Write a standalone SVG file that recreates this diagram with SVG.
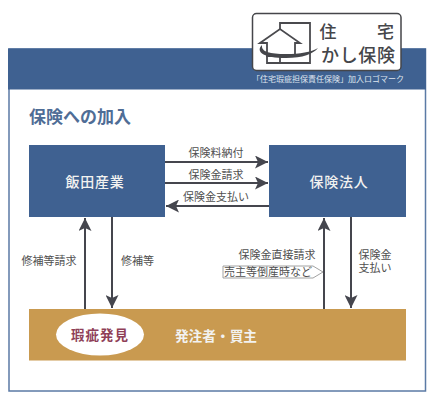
<svg xmlns="http://www.w3.org/2000/svg" width="433" height="400" viewBox="0 0 433 400">
<defs>
<style>
text{font-family:"Noto Sans CJK JP","Noto Sans",sans-serif}
.lb{font-size:11px;fill:#4f4f4f;text-anchor:middle}
.nd{font-size:14px;font-weight:500;fill:#f2f2f0;text-anchor:middle;letter-spacing:.7px}
.blue{fill:#3f6191}
.ln{stroke:#45464e;stroke-width:2;fill:none}
.ic{stroke:#4a4a4e;stroke-width:1.800;fill:#fff}
.lg{fill:#45464a;font-weight:500}
</style>
<marker id="ah" markerUnits="userSpaceOnUse" markerWidth="14" markerHeight="13" refX="13" refY="6.500" orient="auto"><path d="M0 0L13 6.500L0 13L3 6.500Z" fill="#45464e"/></marker>
</defs>
<rect width="433" height="400" fill="#fff"/>
<g id="frame">
<rect x="9" y="49" width="416.500" height="342" fill="#fff" stroke="#5b7aa5" stroke-width="1.500"/>
<rect class="blue" x="8" y="48.500" width="418" height="41"/>
<text x="328" y="82" font-size="8" fill="#dfe6ef" text-anchor="middle">「住宅瑕疵担保責任保険」加入ロゴマーク</text>
</g>
<g id="logo">
<rect x="252.500" y="13.500" width="148.500" height="57" rx="4" fill="#fff" stroke="#45464a" stroke-width="1.500"/>
<path class="ic" d="M280 33V23H310V63H267V52"/>
<path class="ic" d="M280 56V63"/>
<path class="ic" d="M260 43L280 29L300 43H295V56H267V43Z"/>
<path d="M262 45C255 52 264 58 286 58C303 58 313 54 318 48C311 52 300 54 286 54C270 54 261 52 262 45Z" fill="#45464a"/>
<text class="lg" x="319.500" y="38" font-size="17">住</text>
<text class="lg" x="377" y="38" font-size="17">宅</text>
<text class="lg" x="321" y="62" font-size="18" textLength="74" lengthAdjust="spacing">かし保険</text>
</g>
<text id="title" x="29" y="123" font-size="17" font-weight="700" fill="#4f6d96">保険への加入</text>
<g id="connectors">
<path class="ln" d="M165 162H268" marker-end="url(#ah)"/>
<path class="ln" d="M165 183H268" marker-end="url(#ah)"/>
<path class="ln" d="M269 206H166" marker-end="url(#ah)"/>
<path class="ln" d="M85 309V218" marker-end="url(#ah)"/>
<path class="ln" d="M112 217V308" marker-end="url(#ah)"/>
<path class="ln" d="M324 309V218" marker-end="url(#ah)"/>
<path class="ln" d="M351 217V308" marker-end="url(#ah)"/>
</g>
<g id="n-iida"><rect class="blue" x="29" y="145" width="136" height="72"/><text class="nd" x="95" y="187">飯田産業</text></g>
<g id="n-hoken"><rect class="blue" x="269" y="145" width="137" height="72"/><text class="nd" x="339" y="187">保険法人</text></g>
<g id="n-buyer">
<rect x="29" y="309" width="377" height="51.500" fill="#c99a50"/>
<ellipse cx="100" cy="334.500" rx="44" ry="21" fill="#fff"/>
<text x="100" y="340" font-size="13.500" font-weight="700" fill="#8f3f58" text-anchor="middle" letter-spacing="1">瑕疵発見</text>
<text x="216" y="341" font-size="13.700" font-weight="700" fill="#f2f2f0" text-anchor="middle">発注者・買主</text>
</g>
<g id="labels">
<text class="lb" x="216" y="157">保険料納付</text>
<text class="lb" x="216" y="179">保険金請求</text>
<text class="lb" x="216" y="201">保険金支払い</text>
<text class="lb" x="49" y="265">修補等請求</text>
<text class="lb" x="137.500" y="265">修補等</text>
<text class="lb" x="277" y="259">保険金直接請求</text>
<path d="M223 266H313L323 272L313 278H223Z" fill="#fff" stroke="#8a8a8a" stroke-width=".8"/>
<text class="lb" x="268" y="276">売主等倒産時など</text>
<text class="lb" x="375" y="259">保険金</text>
<text class="lb" x="375" y="272">支払い</text>
</g>
</svg>
